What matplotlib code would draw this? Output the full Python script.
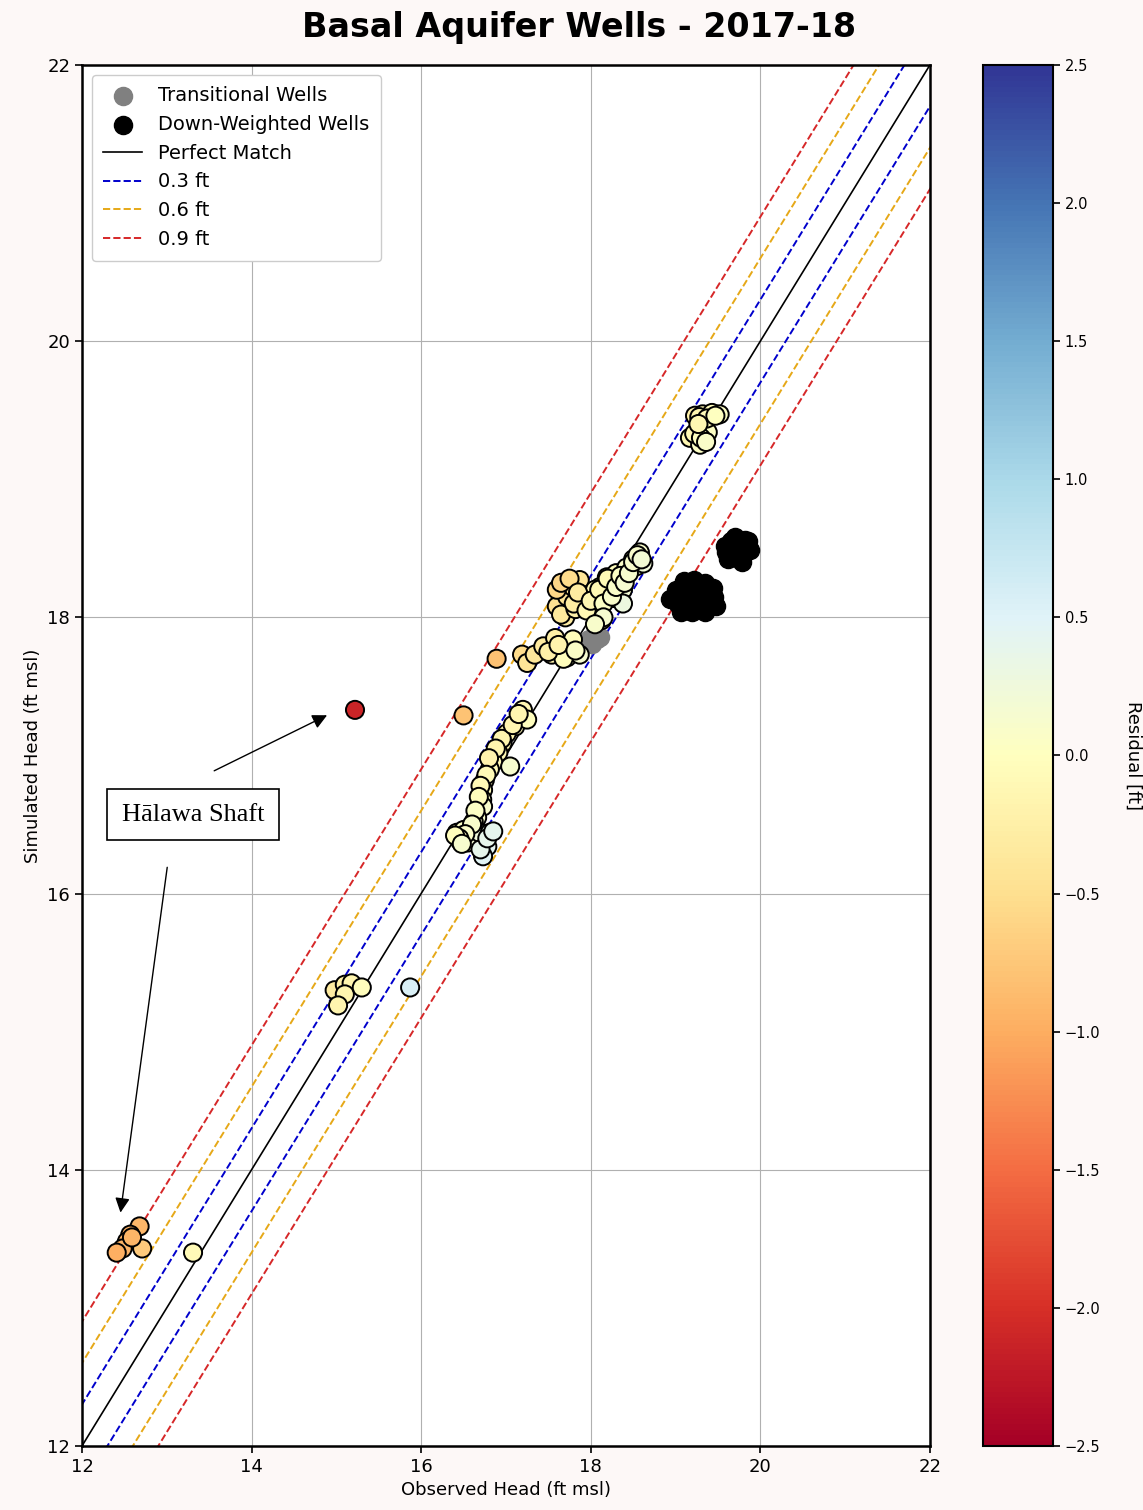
import matplotlib
matplotlib.use("Agg")
import matplotlib.pyplot as plt
import numpy as np

# colored wells: observed / simulated head (ft msl)
obs_head = [
    # Halawa shaft cluster
    12.68, 12.57, 12.53, 12.48, 12.41, 12.71, 12.59,
    13.31,
    # ~15 ft group
    14.98, 15.10, 15.18, 15.10, 15.02, 15.30, 15.87,
    # 16.4 - 17.2 group
    17.20, 17.17, 17.11, 17.01, 16.96, 16.91, 16.85, 16.81, 16.75, 16.73,
    16.72, 16.73, 16.66, 16.58, 16.49, 16.42, 16.55, 16.69, 16.81, 16.78,
    16.73, 17.05, 17.25, 16.50, 16.46, 16.62,
    16.95, 17.08, 17.15, 16.88, 16.80, 16.77, 16.70, 16.68, 16.64, 16.60,
    16.52, 16.45, 16.40, 16.48, 16.70, 16.78, 16.85,
    15.22, 16.50, 16.89,
    # 17.2 - 18.6 group
    17.19, 17.25, 17.34, 17.44, 17.54, 17.58, 17.67, 17.72, 17.79, 17.87,
    17.60, 17.70, 17.72, 17.79, 17.87, 17.93, 17.93, 18.03, 18.13, 18.14,
    18.11, 18.19, 18.26, 18.34, 18.38, 18.46, 18.50, 18.54, 18.58, 18.62,
    18.38, 18.19, 17.65, 17.82, 18.05, 18.22, 18.30, 18.42,
    17.60, 17.65, 17.75, 17.80, 17.85, 17.95, 18.00, 18.10, 18.15, 18.20,
    18.25, 18.30, 18.35, 18.40, 18.45, 18.50, 18.55, 18.60, 18.15, 18.05,
    17.68, 17.50, 17.62, 17.82,
    # ~19.3 group
    19.23, 19.32, 19.43, 19.52, 19.17, 19.25, 19.34, 19.38, 19.29,
    19.28, 19.37, 19.47, 19.22, 19.30, 19.36, 19.27,
]
sim_head = [
    13.59, 13.53, 13.48, 13.43, 13.40, 13.43, 13.51,
    13.40,
    15.30, 15.34, 15.35, 15.27, 15.19, 15.32, 15.32,
    17.33, 17.28, 17.21, 17.16, 17.09, 17.02, 16.95, 16.90, 16.82, 16.75,
    16.68, 16.63, 16.55, 16.48, 16.41, 16.44, 16.37, 16.44, 16.44, 16.34,
    16.27, 16.92, 17.26, 16.46, 16.38, 16.52,
    17.12, 17.22, 17.30, 17.05, 16.98, 16.86, 16.78, 16.70, 16.60, 16.50,
    16.43, 16.40, 16.42, 16.36, 16.32, 16.40, 16.45,
    17.33, 17.29, 17.70,
    17.73, 17.67, 17.73, 17.79, 17.73, 17.85, 17.79, 17.71, 17.84, 17.73,
    18.08, 18.00, 18.15, 18.22, 18.27, 18.16, 18.08, 18.03, 17.98, 18.13,
    18.22, 18.29, 18.14, 18.27, 18.20, 18.34, 18.42, 18.37, 18.47, 18.39,
    18.10, 18.18, 18.02, 18.06, 18.20, 18.25, 18.32, 18.36,
    18.20, 18.25, 18.28, 18.10, 18.18, 18.05, 18.12, 18.20, 18.10, 18.28,
    18.15, 18.22, 18.30, 18.25, 18.32, 18.40, 18.45, 18.42, 18.00, 17.95,
    17.70, 17.75, 17.80, 17.76,
    19.46, 19.47, 19.48, 19.47, 19.30, 19.32, 19.28, 19.34, 19.25,
    19.45, 19.44, 19.46, 19.33, 19.30, 19.27, 19.40,
]

# transitional wells (gray)
trans_obs = [18.01, 18.11, 18.07, 17.98]
trans_sim = [17.81, 17.86, 17.84, 17.84]

# down-weighted wells (black)
down_obs = [19.00, 19.10, 19.22, 19.35, 19.44, 19.03, 19.13, 19.29, 19.42,
            19.06, 19.19, 19.35, 19.48, 18.93,
            19.05, 19.15, 19.25, 19.38, 19.45, 19.10, 19.22, 19.32, 19.40,
            19.58, 19.70, 19.82, 19.88, 19.74, 19.62, 19.78, 19.68,
            19.65, 19.75, 19.80, 19.70, 19.85, 19.60]
down_sim = [18.20, 18.26, 18.27, 18.25, 18.21, 18.10, 18.13, 18.14, 18.13,
            18.04, 18.04, 18.04, 18.08, 18.13,
            18.18, 18.20, 18.20, 18.18, 18.15, 18.08, 18.10, 18.08, 18.10,
            18.52, 18.58, 18.56, 18.49, 18.47, 18.42, 18.40, 18.50,
            18.55, 18.52, 18.45, 18.44, 18.55, 18.47]

offsets = [0.3, 0.6, 0.9]
offset_colors = ["#0000cc", "#e6a817", "#d62728"]
ticks = [12, 14, 16, 18, 20, 22]
cbar_ticks = [-2.5, -2.0, -1.5, -1.0, -0.5, 0.0, 0.5, 1.0, 1.5, 2.0, 2.5]

obs = np.array(obs_head)
sim = np.array(sim_head)
residual = obs - sim

fig = plt.figure(figsize=(11.43, 15.10), dpi=100)
fig.patch.set_facecolor("#fdf8f7")
ax = fig.add_axes([0.0717, 0.0424, 0.7419, 0.9146])
cax = fig.add_axes([0.860, 0.0424, 0.0612, 0.9146])

line_x = np.array([11.0, 23.0])
ax.plot(line_x, line_x, color="black", lw=1.2, label="Perfect Match", zorder=2)
for d, c in zip(offsets, offset_colors):
    ax.plot(line_x, line_x + d, color=c, lw=1.4, ls="--", label=f"{d} ft", zorder=2)
    ax.plot(line_x, line_x - d, color=c, lw=1.4, ls="--", zorder=2)

ax.scatter(trans_obs, trans_sim, s=170, color="gray", label="Transitional Wells", zorder=3)
ax.scatter(down_obs, down_sim, s=170, color="black", label="Down-Weighted Wells", zorder=3)
sc = ax.scatter(obs, sim, c=residual, cmap="RdYlBu", vmin=-2.5, vmax=2.5, s=170,
                edgecolors="black", linewidths=1.4, zorder=4)

ax.set_xlim(12, 22)
ax.set_ylim(12, 22)
ax.set_xticks(ticks)
ax.set_yticks(ticks)
ax.tick_params(labelsize=13, width=1.2, length=5)
ax.grid(True, color="#b0b0b0", lw=0.8, zorder=0)
ax.set_axisbelow(True)
for spine in ax.spines.values():
    spine.set_linewidth(1.8)
ax.set_xlabel("Observed Head (ft msl)", fontsize=13)
ax.set_ylabel("Simulated Head (ft msl)", fontsize=13)

handles, labels = ax.get_legend_handles_labels()
order = [labels.index(l) for l in ["Transitional Wells", "Down-Weighted Wells", "Perfect Match",
                                   "0.3 ft", "0.6 ft", "0.9 ft"]]
ax.legend([handles[i] for i in order], [labels[i] for i in order], loc="upper left",
          fontsize=14, labelspacing=0.5, borderpad=0.6, framealpha=1)

# annotation for Halawa Shaft
ax.text(13.31, 16.57, "H\u0101lawa Shaft", fontsize=19, family="Liberation Serif",
        ha="center", va="center",
        bbox=dict(boxstyle="square,pad=0.55", facecolor="white", edgecolor="black", lw=1.2),
        zorder=6)
ax.annotate("", xy=(14.92, 17.30), xytext=(13.53, 16.88),
            arrowprops=dict(arrowstyle="-|>", color="black", lw=1.0, mutation_scale=22), zorder=6)
ax.annotate("", xy=(12.45, 13.67), xytext=(13.01, 16.21),
            arrowprops=dict(arrowstyle="-|>", color="black", lw=1.0, mutation_scale=22), zorder=6)

cb = fig.colorbar(sc, cax=cax, ticks=cbar_ticks)
cb.ax.tick_params(labelsize=10.5, width=1.2, length=5)
cb.outline.set_linewidth(1.5)
cb.set_label("Residual [ft]", rotation=270, fontsize=13, labelpad=30)

fig.suptitle("Basal Aquifer Wells - 2017-18", fontsize=24, fontweight="bold", x=0.507, y=0.993)

fig.savefig("out.png", dpi=100, facecolor=fig.get_facecolor())
